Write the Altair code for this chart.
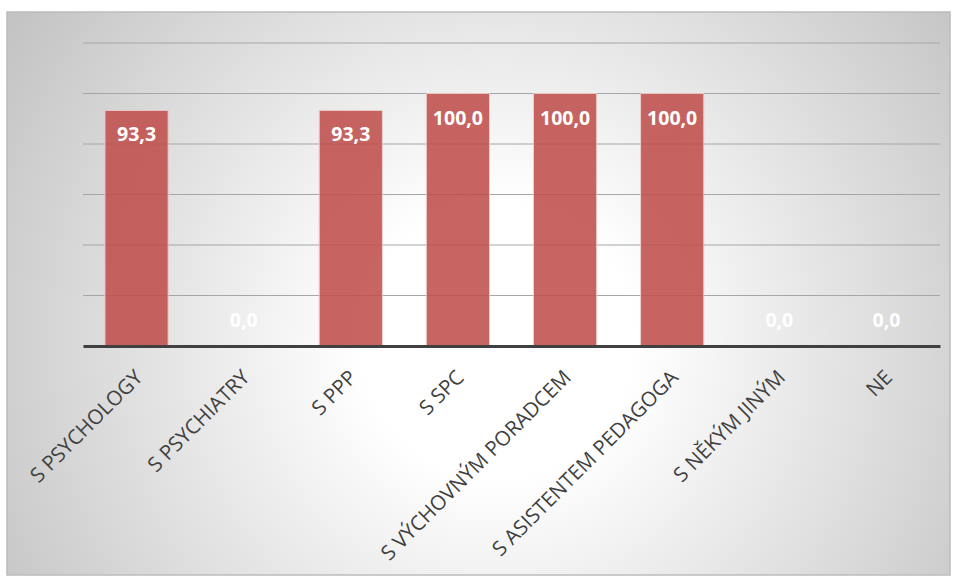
import altair as alt
import pandas as pd

categories = ["S PSYCHOLOGY", "S PSYCHIATRY", "S PPP", "S SPC",
              "S VÝCHOVNÝM PORADCEM", "S ASISTENTEM PEDAGOGA", "S NĚKÝM JINÝM", "NE"]
values = [93.3, 0.0, 93.3, 100.0, 100.0, 100.0, 0.0, 0.0]
grid_ticks = [0, 20, 40, 60, 80, 100, 120]

df = pd.DataFrame({"cat": categories, "value": values})

W, H = 857, 303
yscale = alt.Scale(domain=[0, 120], nice=False)
xaxis = alt.Axis(labelAngle=-45, labelAlign="right", labelBaseline="middle",
                 labelFontSize=20.5, labelFont="Open Sans", labelColor="#404040",
                 labelPadding=28, labelOffset=3, ticks=False, domainColor="#404040",
                 domainWidth=3, grid=False, labelLimit=400, zindex=1)
xenc = alt.X("cat:N", sort=categories, title=None,
             scale=alt.Scale(paddingInner=0.41, paddingOuter=0.205), axis=xaxis)

bg = alt.Chart(pd.DataFrame({"a": [0]})).mark_rect(
    fill={"gradient": "radial", "x1": 0.52, "y1": 0.55, "r1": 0.0,
          "x2": 0.52, "y2": 0.55, "r2": 0.72,
          "stops": [{"offset": 0, "color": "#ffffff"},
                    {"offset": 0.2, "color": "#ffffff"},
                    {"offset": 1, "color": "#b6b6b6"}]},
    stroke="#bcbcbc", strokeWidth=1.5
).encode(x=alt.value(-76), x2=alt.value(867), y=alt.value(-31), y2=alt.value(532))

grid = alt.Chart(pd.DataFrame({"t": grid_ticks})).mark_rule(
    color="#a6a6a6", strokeWidth=1.2
).encode(y=alt.Y("t:Q", scale=yscale, axis=None))

base = alt.Chart(df).encode(x=xenc)

bars = base.mark_bar(color="#c0504d", opacity=0.88, stroke="#ecc9c8", strokeWidth=1).encode(
    y=alt.Y("value:Q", title=None, scale=yscale, axis=None)
)

lab = base.transform_calculate(
    lbl="replace(format(datum.value, '.1f'), '.', ',')"
)
labels_pos = lab.transform_filter("datum.value > 0").mark_text(
    color="white", fontSize=19.5, fontWeight="bold", font="Open Sans",
    baseline="middle", dy=25).encode(
    y=alt.Y("value:Q", scale=yscale, axis=None), text="lbl:N")
labels_zero = lab.transform_filter("datum.value <= 0").mark_text(
    color="white", fontSize=19.5, fontWeight="bold", font="Open Sans",
    baseline="middle", dy=-25).encode(
    y=alt.Y("value:Q", scale=yscale, axis=None), text="lbl:N")

chart = alt.layer(bg, grid, bars, labels_pos, labels_zero).properties(
    width=W, height=H,
    autosize=alt.AutoSizeParams(type="none"),
    padding={"left": 83, "top": 43, "right": 15, "bottom": 237},
    background="white"
).configure_view(stroke=None)

chart.save("out.html", embed_options={"renderer": "svg", "actions": False})
